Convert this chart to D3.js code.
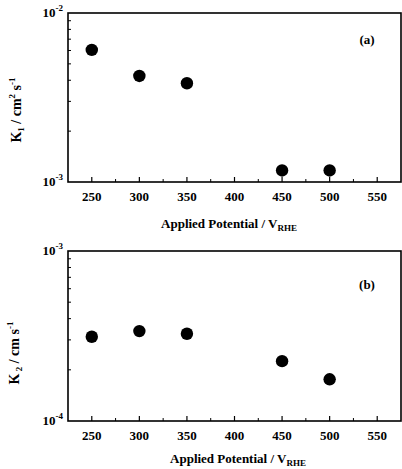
<!DOCTYPE html>
<html>
<head>
<meta charset="utf-8">
<script src="https://cdn.jsdelivr.net/npm/d3@7/dist/d3.min.js"></script>
<style>
  html, body { margin: 0; padding: 0; background: #fff; }
  svg { display: block; }
  text { font-family: "Liberation Serif", "Times New Roman", serif; font-weight: bold; fill: #000; }
</style>
</head>
<body>
<svg id="chart" width="402" height="469"></svg>
<script>
// Applied potential (mV vs RHE)
const potentials = [250, 300, 350, 450, 500];
// Rate constants
const k1Values = [6.05e-3, 4.24e-3, 3.84e-3, 1.17e-3, 1.17e-3];
const k2Values = [3.13e-4, 3.38e-4, 3.26e-4, 2.25e-4, 1.76e-4];
const xTicks = [250, 300, 350, 400, 450, 500, 550];
const xMinorTicks = [275, 325, 375, 425, 475, 525];

const svg = d3.select("#chart");
const W = 402;

const x = d3.scaleLinear().domain([225, 575]).range([68, 401]);

function panel(opts) {
  const g = svg.append("g");
  const y = d3.scaleLog().domain(opts.domain).range([opts.bottom, opts.top]);
  const [lo, hi] = opts.domain;

  // frame
  g.append("rect")
    .attr("x", x.range()[0]).attr("y", opts.top)
    .attr("width", x.range()[1] - x.range()[0])
    .attr("height", opts.bottom - opts.top)
    .attr("fill", "none").attr("stroke", "#000").attr("stroke-width", 1.6);

  // bottom axis ticks, pointing inward
  g.selectAll(".xt").data(xTicks).enter().append("line")
    .attr("x1", d => x(d)).attr("x2", d => x(d))
    .attr("y1", opts.bottom).attr("y2", opts.bottom - 5)
    .attr("stroke", "#000").attr("stroke-width", 1.2);
  g.selectAll(".xm").data(xMinorTicks).enter().append("line")
    .attr("x1", d => x(d)).attr("x2", d => x(d))
    .attr("y1", opts.bottom).attr("y2", opts.bottom - 3)
    .attr("stroke", "#000").attr("stroke-width", 1);
  g.selectAll(".xl").data(xTicks).enter().append("text")
    .attr("x", d => x(d)).attr("y", opts.bottom + 19)
    .attr("text-anchor", "middle").attr("font-size", 13)
    .text(d => d);

  // left axis minor ticks (log 2..9)
  const minor = d3.range(2, 10).map(m => m * lo);
  g.selectAll(".ym").data(minor).enter().append("line")
    .attr("x1", x.range()[0]).attr("x2", x.range()[0] + 3)
    .attr("y1", d => y(d)).attr("y2", d => y(d))
    .attr("stroke", "#000").attr("stroke-width", 1);

  // decade labels
  [lo, hi].forEach(v => {
    const t = g.append("text")
      .attr("x", 63).attr("y", y(v) + 4)
      .attr("text-anchor", "end").attr("font-size", 13);
    t.append("tspan").text("10");
    t.append("tspan").attr("dy", -6).attr("font-size", 9)
      .text(String(Math.round(Math.log10(v))).replace("-", "-"));
  });

  // y label
  const yl = g.append("text")
    .attr("transform", `translate(${opts.ylx},${opts.yly}) rotate(-90)`)
    .attr("text-anchor", "middle").attr("font-size", 14);
  opts.ylabel(yl);

  // x label
  const xl = g.append("text")
    .attr("x", opts.xlx).attr("y", opts.xly)
    .attr("text-anchor", "middle").attr("font-size", 13);
  xl.append("tspan").text("Applied Potential / V");
  xl.append("tspan").attr("dy", 3).attr("font-size", 9).text("RHE");

  // panel tag
  g.append("text")
    .attr("x", 367).attr("y", opts.tagy)
    .attr("text-anchor", "middle").attr("font-size", 13)
    .text(opts.tag);

  // points
  g.selectAll(".pt").data(potentials).enter().append("circle")
    .attr("cx", d => x(d))
    .attr("cy", (d, i) => y(opts.values[i]))
    .attr("r", 6.2).attr("fill", "#000");
}

panel({
  domain: [1e-3, 1e-2], top: 13, bottom: 182,
  values: k1Values, tag: "(a)", tagy: 44,
  xlx: 229, xly: 228,
  ylx: 21, yly: 110,
  ylabel: t => {
    t.append("tspan").text("K");
    t.append("tspan").attr("dy", 3).attr("font-size", 9).text("1");
    t.append("tspan").attr("dy", -3).text(" / cm");
    t.append("tspan").attr("dy", -6).attr("font-size", 9).text("2");
    t.append("tspan").attr("dy", 6).text(" s");
    t.append("tspan").attr("dy", -6).attr("font-size", 9).text("-1");
  }
});

panel({
  domain: [1e-4, 1e-3], top: 251, bottom: 421,
  values: k2Values, tag: "(b)", tagy: 289,
  xlx: 238, xly: 463,
  ylx: 19, yly: 353,
  ylabel: t => {
    t.append("tspan").text("K");
    t.append("tspan").attr("dy", 3).attr("font-size", 9).text(" 2");
    t.append("tspan").attr("dy", -3).text(" / cm s");
    t.append("tspan").attr("dy", -6).attr("font-size", 9).text("-1");
  }
});
</script>
</body>
</html>
